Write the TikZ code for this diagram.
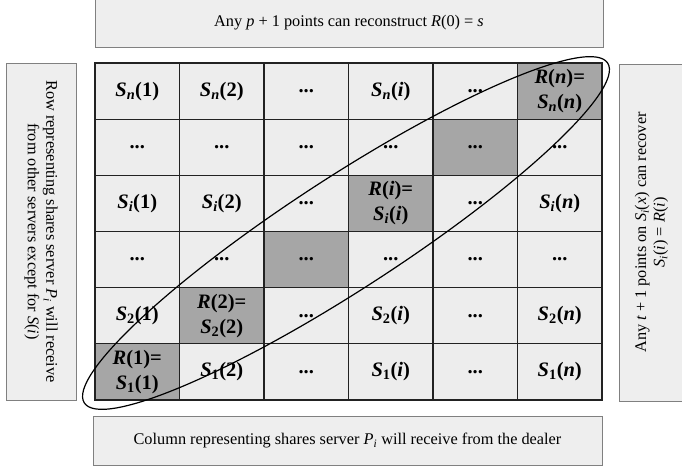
\documentclass[tikz,border=0pt]{standalone}
\usepackage{fontspec}
\setmainfont{Liberation Serif}
\definecolor{cellfill}{HTML}{EDEDED}
\definecolor{shadefill}{HTML}{A6A6A6}
\definecolor{boxfill}{HTML}{EEEEEE}
\definecolor{boxline}{HTML}{808080}
\definecolor{gridline}{HTML}{222222}
\newcommand\Sv[2]{\textit{S}\textsubscript{#1}(#2)}
\newcommand\ii{\textit{i}}
\newcommand\nn{\textit{n}}
\tikzset{
  cell/.style={draw=gridline, line width=1.3pt, fill=cellfill, minimum width=84.5pt, minimum height=56.1667pt, inner sep=0pt, align=center, font=\fontsize{20.5}{25}\selectfont\bfseries},
  shade/.style={cell, fill=shadefill},
  infobox/.style={draw=boxline, line width=0.8pt, fill=boxfill, inner sep=0pt, align=center, font=\fontsize{16.3}{18.5}\selectfont}
}
\begin{document}
\begin{tikzpicture}[x=1pt,y=1pt]
\useasboundingbox (0,0) rectangle (682,467);
% info boxes
\node[infobox, minimum width=508pt, minimum height=49pt] (top) at (349,444.5) {\raisebox{-3pt}{Any \textit{p} + 1 points can reconstruct \textit{R}(0) = \textit{s}}};
\node[infobox, minimum width=509pt, minimum height=49pt] (bottom) at (347.5,26.5) {Column representing shares server \textit{P}\textsubscript{\textit{i}} will receive from the dealer};
\node[infobox, rotate=-90, minimum width=337pt, minimum height=70pt] (left) at (41,235.5) {Row representing shares server \textit{P}\textsubscript{\textit{i}} will receive\\from other servers except for \textit{S}(\textit{i})};
\node[infobox, rotate=90, minimum width=337pt, minimum height=65pt] (right) at (651.5,234.5) {Any \textit{t} + 1 points on \textit{S}\textsubscript{\textit{i}}(\textit{x}) can recover\\\textit{S}\textsubscript{\textit{i}}(\textit{i}) = \textit{R}(\textit{i})};
% row 1
\node[cell]  (c11) at (137.25,375.92) {\Sv{\nn}{1}};
\node[cell]  (c12) at (221.75,375.92) {\Sv{\nn}{2}};
\node[cell]  (c13) at (306.25,375.92) {...};
\node[cell]  (c14) at (390.75,375.92) {\Sv{\nn}{\ii}};
\node[cell]  (c15) at (475.25,375.92) {...};
\node[shade] (c16) at (559.75,375.92) {\textit{R}(\nn)=\\\Sv{\nn}{\nn}};
% row 2
\node[cell]  (c21) at (137.25,319.75) {...};
\node[cell]  (c22) at (221.75,319.75) {...};
\node[cell]  (c23) at (306.25,319.75) {...};
\node[cell]  (c24) at (390.75,319.75) {...};
\node[shade] (c25) at (475.25,319.75) {...};
\node[cell]  (c26) at (559.75,319.75) {...};
% row 3
\node[cell]  (c31) at (137.25,263.58) {\Sv{\ii}{1}};
\node[cell]  (c32) at (221.75,263.58) {\Sv{\ii}{2}};
\node[cell]  (c33) at (306.25,263.58) {...};
\node[shade] (c34) at (390.75,263.58) {\textit{R}(\ii)=\\\Sv{\ii}{\ii}};
\node[cell]  (c35) at (475.25,263.58) {...};
\node[cell]  (c36) at (559.75,263.58) {\Sv{\ii}{\nn}};
% row 4
\node[cell]  (c41) at (137.25,207.42) {...};
\node[cell]  (c42) at (221.75,207.42) {...};
\node[shade] (c43) at (306.25,207.42) {...};
\node[cell]  (c44) at (390.75,207.42) {...};
\node[cell]  (c45) at (475.25,207.42) {...};
\node[cell]  (c46) at (559.75,207.42) {...};
% row 5
\node[cell]  (c51) at (137.25,151.25) {\Sv{2}{1}};
\node[shade] (c52) at (221.75,151.25) {\textit{R}(2)=\\\Sv{2}{2}};
\node[cell]  (c53) at (306.25,151.25) {...};
\node[cell]  (c54) at (390.75,151.25) {\Sv{2}{\ii}};
\node[cell]  (c55) at (475.25,151.25) {...};
\node[cell]  (c56) at (559.75,151.25) {\Sv{2}{\nn}};
% row 6
\node[shade] (c61) at (137.25,95.08) {\textit{R}(1)=\\\Sv{1}{1}};
\node[cell]  (c62) at (221.75,95.08) {\Sv{1}{2}};
\node[cell]  (c63) at (306.25,95.08) {...};
\node[cell]  (c64) at (390.75,95.08) {\Sv{1}{\ii}};
\node[cell]  (c65) at (475.25,95.08) {...};
\node[cell]  (c66) at (559.75,95.08) {\Sv{1}{\nn}};
% ellipse
\draw[line width=1.2pt, rotate around={33:(346,234)}] (346,234) ellipse [x radius=312, y radius=56];
\end{tikzpicture}
\end{document}
